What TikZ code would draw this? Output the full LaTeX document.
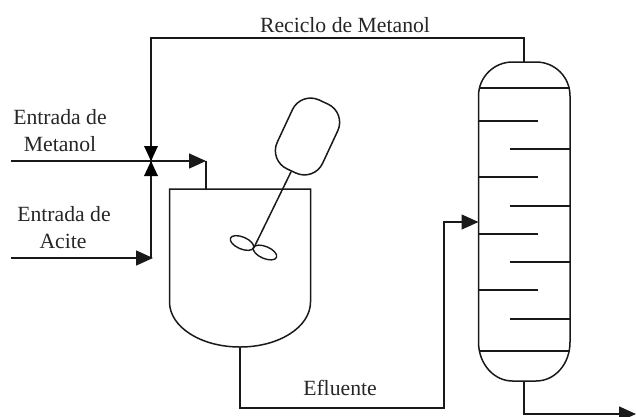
\documentclass[tikz,border=0pt]{standalone}
\usepackage{fontspec}
\setmainfont{Liberation Serif}
\usetikzlibrary{arrows.meta,shapes.geometric}
\tikzset{
  pipe/.style={line width=1.5pt,draw=black!90,line join=miter},
  flow/.style={pipe,-{Triangle[length=17pt,width=15pt]},shorten >=0pt},
  wall/.style={line width=1.5pt,draw=black!90},
  tray/.style={line width=1.6pt,draw=black!90},
  lbl/.style={font=\fontsize{21.7}{24}\selectfont,text=black!85,inner sep=0pt,anchor=center},
  blade/.style={draw=black!90,line width=1.4pt,ellipse,minimum width=25pt,minimum height=12pt,inner sep=0pt},
  valvetri/.style={fill=black,draw=none}
}
\begin{document}
\begin{tikzpicture}[x=1pt,y=-1pt]
\useasboundingbox (0,0) rectangle (636,416);
% named points
\coordinate (metin) at (11,161);
\coordinate (acin) at (11,258);
\coordinate (valve) at (151,161);
\coordinate (acjoin) at (151,258);
\coordinate (acend) at (153,258);
\coordinate (vesin) at (206,161);
\coordinate (vestop) at (206,189);
\coordinate (coltop) at (524,62);
\coordinate (colbot) at (524,381);
\coordinate (recA) at (524,38);
\coordinate (recB) at (151,38);
\coordinate (vesout) at (240,347);
\coordinate (effA) at (240,408);
\coordinate (effB) at (444,408);
\coordinate (effC) at (444,222);
\coordinate (colfeed) at (478.5,222);
\coordinate (botA) at (524,414);
\coordinate (botB) at (636,414);
% vessel
\draw[wall] (169.5,302) -- (169.5,189) -- (310.5,189) -- (310.5,302)
  .. controls (310.5,327) and (279,347) .. (240,347)
  .. controls (201,347) and (169.5,327) .. (169.5,302) -- cycle;
% column
\draw[wall] (478.5,96) .. controls (478.5,77) and (494,62) .. (512.5,62) -- (536,62)
  .. controls (555,62) and (570,77) .. (570,96) -- (570,342)
  .. controls (570,364) and (555,381) .. (536,381) -- (512.5,381)
  .. controls (494,381) and (478.5,364) .. (478.5,342) -- cycle;
\draw[wall] (479,88) -- (570,88);
\draw[wall] (479,351) -- (570,351);
\foreach \y in {121,177,233.7,290} \draw[tray] (478.5,\y) -- (537.5,\y);
\foreach \y in {149,205.7,262,318.7} \draw[tray] (510,\y) -- (570,\y);
% agitator
\node[draw=black!90,line width=1.5pt,rounded corners=20pt,minimum width=50pt,minimum height=76pt,inner sep=0pt,rotate=-25] (motor) at (307.5,136.5) {};
\node[blade,rotate=-23] (bladeL) at (242,243) {};
\node[blade,rotate=-23] (bladeR) at (265,252.5) {};
\coordinate (hub) at (254,247.5);
\draw[wall] (motor.south) -- (hub);
% pipes
\draw[pipe] (coltop) -- (recA) -- (recB) -- (valve);
\draw[flow] (metin) -- (vesin);
\draw[pipe] (vesin) -- (vestop);
\draw[flow] (acin) -- (acend);
\draw[pipe] (acjoin) -- (valve);
\fill[valvetri] (144,146) -- (158,146) -- (valve) -- cycle;
\fill[valvetri] (144,176) -- (158,176) -- (valve) -- cycle;
\draw[flow] (vesout) -- (effA) -- (effB) -- (effC) -- (colfeed);
\draw[flow] (colbot) -- (botA) -- (botB);
% labels
\node[lbl] (l1) at (345,25) {Reciclo de Metanol};
\node[lbl] (l2) at (60,117) {Entrada de};
\node[lbl] (l3) at (60,144) {Metanol};
\node[lbl] (l4) at (64,214) {Entrada de};
\node[lbl] (l5) at (63,241) {Acite};
\node[lbl] (l6) at (340,388) {Efluente};
\end{tikzpicture}
\end{document}
